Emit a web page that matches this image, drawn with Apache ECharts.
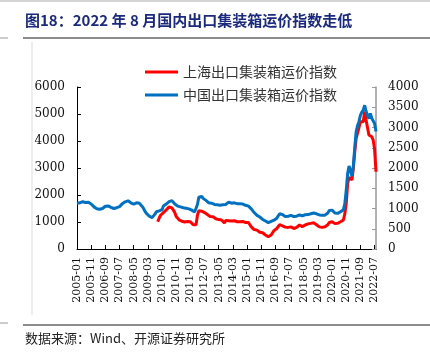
<!DOCTYPE html>
<html>
<head>
<meta charset="utf-8">
<script src="https://cdn.jsdelivr.net/npm/echarts@6/dist/echarts.min.js"></script>
<style>
  html, body { margin: 0; padding: 0; background: #fff; }
  #main { width: 430px; height: 353px; }
</style>
</head>
<body>
<div id="main"></div>
<script>
// 月份 2005-01 ~ 2022-08
var months = [];
for (var y = 2005; y <= 2022; y++) {
  for (var m = 1; m <= 12; m++) {
    if (y === 2022 && m > 8) break;
    months.push(y + '-' + (m < 10 ? '0' + m : m));
  }
}

// 中国出口集装箱运价指数 CCFI（右轴）
var ccfi = [
  1128, 1150, 1140, 1165, 1168, 1160, 1150, 1140, 1155, 1130, 1110, 1080,
  1040, 1010, 995, 985, 980, 990, 1000, 1030, 1055, 1060, 1062, 1050,
  1030, 1005, 1000, 1005, 1020, 1040, 1045, 1080, 1120, 1150, 1165, 1180,
  1190, 1175, 1140, 1120, 1110, 1130, 1140, 1135, 1128, 1100, 1050, 1000,
  930, 880, 840, 810, 790, 775, 800, 860, 920, 930, 940, 955,
  970, 1060, 1080, 1110, 1140, 1170, 1185, 1195, 1160, 1110, 1085, 1060,
  1045, 1040, 1030, 1020, 1010, 1005, 995, 990, 975, 960, 935, 915,
  930, 1100, 1280, 1320, 1300, 1250, 1230, 1200, 1160, 1140, 1120, 1130,
  1110, 1100, 1120, 1090, 1100, 1080, 1100, 1090, 1045, 1100, 1140, 1160,
  1165, 1130, 1120, 1140, 1135, 1120, 1125, 1120, 1100, 1110, 1090, 1080,
  1085, 1060, 1030, 990, 950, 900, 860, 830, 800, 790, 760, 730,
  710, 690, 670, 650, 665, 680, 700, 710, 720, 760, 820, 870,
  880, 850, 820, 800, 790, 810, 820, 830, 810, 800, 795, 810,
  830, 840, 830, 820, 835, 845, 860, 850, 860, 870, 885, 890,
  895, 870, 850, 840, 845, 835, 840, 835, 850, 890, 950, 965,
  960, 920, 890, 880, 880, 890, 920, 950, 970, 1120, 1450, 1870,
  2050, 2070, 1800, 2050, 2500, 2900, 3050, 3150, 3300, 3380, 3430, 3550,
  3400, 3300, 3220, 3350, 3230, 3270, 3100, 2900
];

// 上海出口集装箱运价指数 SCFI（左轴），自 2009-10 起
var scfiStart = '2009-10';
var scfi = [
  1011, 1150, 1250,
  1320, 1350, 1382, 1450, 1500, 1560, 1580, 1520, 1440, 1350, 1200, 1137,
  1080, 1050, 1030, 1011, 1000, 1030, 1020, 1000, 1011, 980, 900, 840,
  900, 1250, 1420, 1444, 1400, 1382, 1350, 1320, 1280, 1240, 1200, 1190,
  1196, 1150, 1120, 1100, 1090, 1074, 1074, 1000, 960, 1060, 1080, 1050,
  1074, 1040, 1000, 1050, 1020, 1010, 1030, 1011, 990, 1020, 1000, 980,
  1000, 980, 900, 820, 767, 720, 680, 700, 650, 620, 641, 600,
  560, 520, 480, 456, 480, 520, 600, 680, 704, 760, 820, 900,
  900, 860, 830, 810, 826, 800, 790, 820, 780, 760, 767, 800,
  850, 889, 860, 830, 870, 889, 900, 930, 920, 950, 960, 970,
  974, 900, 860, 820, 830, 800, 810, 826, 850, 900, 980, 1000,
  1011, 960, 940, 952, 952, 980, 1010, 1050, 1074, 1300, 1693, 2433,
  2650, 2678, 2556, 2989, 3600, 4100, 4300, 4500, 4715, 4700, 4715, 5085,
  4778, 4500, 4222, 4200, 4159, 4037, 3700, 2860
];

var leftTicks = { min: 0, max: 6000, interval: 1000 };
var rightTicks = { min: 0, max: 4000, interval: 500 };

var scfiFull = [];
var offset = months.indexOf(scfiStart);
for (var i = 0; i < months.length; i++) {
  scfiFull.push(i < offset ? null : scfi[i - offset]);
}

var numFont = 'DejaVu Serif';
var cjkFont = 'Noto Sans CJK SC';
var plain = function (v) { return String(v); };

var chart = echarts.init(document.getElementById('main'));

var option = {
  animation: false,
  backgroundColor: '#fff',
  color: ['#FF0000', '#0070C0'],
  grid: { left: 77, right: 54, top: 87, bottom: 104 },
  legend: {
    orient: 'vertical',
    left: 140,
    top: 60,
    itemWidth: 33,
    itemHeight: 3,
    itemGap: 9,
    icon: 'rect',
    textStyle: { fontFamily: cjkFont, fontSize: 14, color: '#333' },
    data: ['上海出口集装箱运价指数', '中国出口集装箱运价指数']
  },
  xAxis: {
    type: 'category',
    boundaryGap: false,
    data: months,
    axisLine: { lineStyle: { color: '#000', width: 1 } },
    axisTick: { inside: true, interval: 9, length: 4, lineStyle: { color: '#000' } },
    axisLabel: {
      interval: 9,
      rotate: 90,
      margin: 8,
      fontFamily: numFont,
      fontSize: 11,
      color: '#111'
    },
    splitLine: { show: false }
  },
  yAxis: [{
    type: 'value',
    min: leftTicks.min,
    max: leftTicks.max,
    interval: leftTicks.interval,
    axisLine: { show: true, lineStyle: { color: '#000', width: 1 } },
    axisTick: { show: true, inside: true, length: 4, lineStyle: { color: '#000' } },
    axisLabel: { margin: 12, formatter: plain, fontFamily: numFont, fontSize: 12, color: '#111' },
    splitLine: { show: false }
  }, {
    type: 'value',
    position: 'right',
    min: rightTicks.min,
    max: rightTicks.max,
    interval: rightTicks.interval,
    axisLine: { show: true, lineStyle: { color: '#999', width: 1.5 } },
    axisTick: { show: true, inside: true, length: 4, lineStyle: { color: '#999' } },
    axisLabel: { margin: 12, formatter: plain, fontFamily: numFont, fontSize: 12, color: '#111' },
    splitLine: { show: false }
  }],
  series: [{
    name: '上海出口集装箱运价指数',
    type: 'line',
    yAxisIndex: 0,
    data: scfiFull,
    showSymbol: false,
    lineStyle: { width: 3, color: '#FF0000' }
  }, {
    name: '中国出口集装箱运价指数',
    type: 'line',
    yAxisIndex: 1,
    data: ccfi,
    showSymbol: false,
    lineStyle: { width: 3, color: '#0070C0' }
  }],
  graphic: [
    { type: 'line', shape: { x1: 0, y1: 1, x2: 430, y2: 1 }, style: { stroke: '#aaa', lineWidth: 1 } },
    {
      type: 'text', left: 25, top: 13,
      style: {
        text: '图18：2022 年 8 月国内出口集装箱运价指数走低',
        font: 'bold 15px "Noto Sans CJK SC"',
        fill: '#1B2A7C'
      }
    },
    { type: 'line', shape: { x1: 23, y1: 38, x2: 430, y2: 38 }, style: { stroke: '#666', lineWidth: 1.5 } },
    { type: 'line', shape: { x1: 0, y1: 38, x2: 8, y2: 38 }, style: { stroke: '#999', lineWidth: 1 } },
    { type: 'line', shape: { x1: 32, y1: 42, x2: 32, y2: 315 }, style: { stroke: '#ddd', lineWidth: 1 } },
    { type: 'line', shape: { x1: 23, y1: 325, x2: 430, y2: 325 }, style: { stroke: '#666', lineWidth: 1.5 } },
    { type: 'line', shape: { x1: 0, y1: 323, x2: 8, y2: 323 }, style: { stroke: '#999', lineWidth: 1 } },
    {
      type: 'text', left: 25, top: 332,
      style: {
        text: '数据来源：Wind、开源证券研究所',
        font: '13px "Noto Sans CJK SC"',
        fill: '#222'
      }
    }
  ]
};

chart.setOption(option);
</script>
</body>
</html>
